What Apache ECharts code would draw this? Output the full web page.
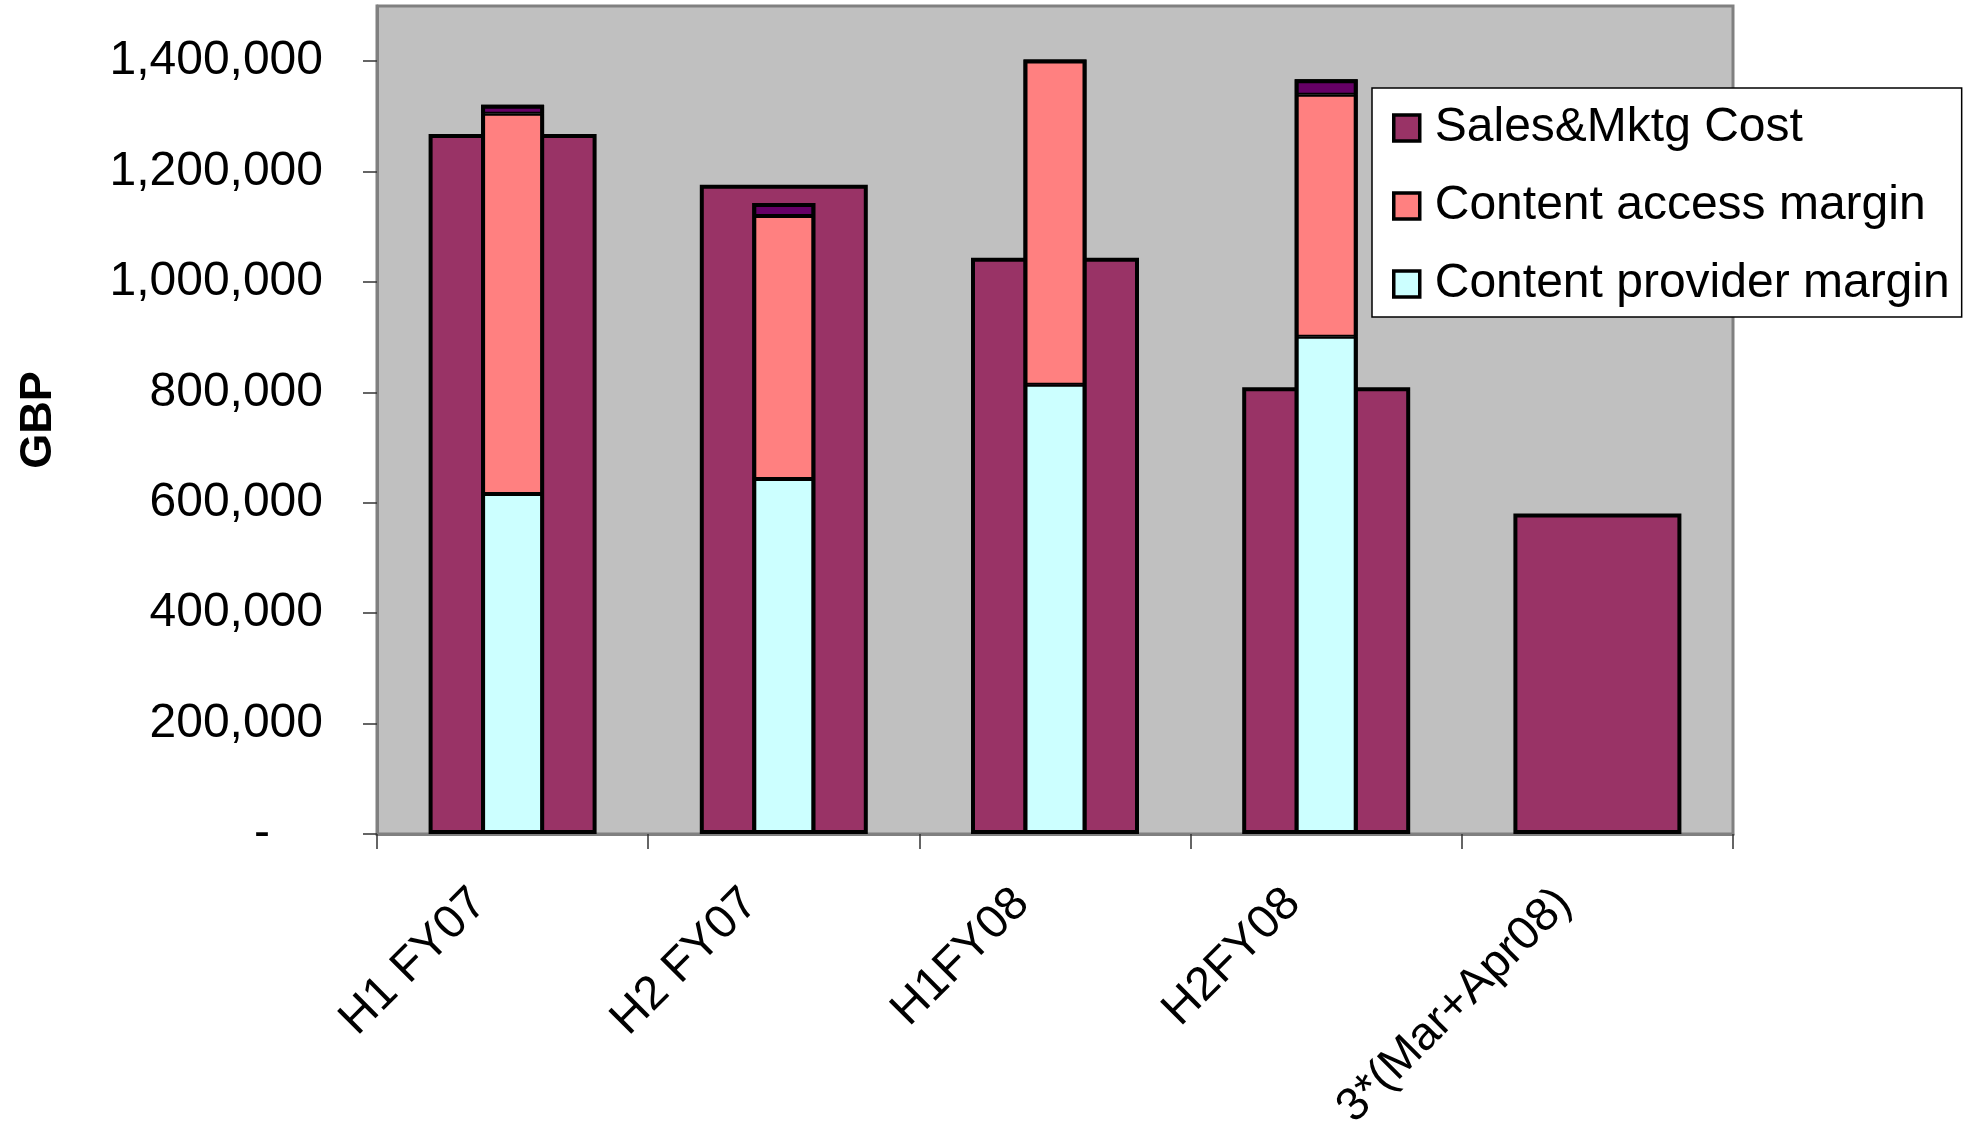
<!DOCTYPE html>
<html>
<head>
<meta charset="utf-8">
<script src="https://cdn.jsdelivr.net/npm/echarts@6/dist/echarts.min.js"></script>
<style>
  html, body { margin: 0; padding: 0; background: #ffffff; }
  #chart { width: 1966px; height: 1125px; }
</style>
</head>
<body>
<div id="chart"></div>
<script>
// ---- Data ----
const categories = ['H1 FY07', 'H2 FY07', 'H1FY08', 'H2FY08', '3*(Mar+Apr08)'];
const salesMktgCost = [1268000, 1176000, 1044000, 809500, 580500];
const contentProviderMargin = [616000, 643000, 814000, 901000, null];
const contentAccessMargin = [689000, 476500, 589000, 438000, null];
const topSegment = [16000, 23600, null, 28400, null];
const yTicks = [0, 200000, 400000, 600000, 800000, 1000000, 1200000, 1400000];
const legendOrder = ['Sales&Mktg Cost', 'Content access margin', 'Content provider margin'];

// outline of each stacked column (sum of its segments), drawn on top so that
// the outer border and the inner separators have the same thickness
const stackTotals = categories.map((c, i) => {
  const parts = [contentProviderMargin[i], contentAccessMargin[i], topSegment[i]].filter(v => v != null);
  return parts.length ? parts.reduce((a, b) => a + b, 0) : null;
});

const FONT = '"Liberation Sans", Arial, sans-serif';
const chart = echarts.init(document.getElementById('chart'), null, { renderer: 'canvas' });

function fmt(v) {
  if (v === 0) return '{z|-}';
  return v.toLocaleString('en-US');
}

const segBorder = { borderColor: '#000000', borderWidth: 2 };

chart.setOption({
  backgroundColor: '#ffffff',
  animation: false,
  grid: {
    left: 377, right: 233, top: 6, bottom: 291,
    containLabel: false, outerBoundsMode: 'none',
    show: true, backgroundColor: '#C0C0C0', borderColor: '#808080', borderWidth: 3
  },
  legend: {
    data: legendOrder,
    orient: 'vertical',
    left: 1372, top: 88,
    backgroundColor: '#ffffff',
    borderColor: '#000000', borderWidth: 1.5,
    padding: [15, 12, 8, 20],
    itemWidth: 26, itemHeight: 26, itemGap: 28,
    icon: 'rect',
    itemStyle: { borderColor: '#000', borderWidth: 3.5 },
    textStyle: { fontFamily: FONT, fontSize: 48, color: '#000', lineHeight: 50, padding: [0, 0, 0, 10] }
  },
  xAxis: [
    {
      type: 'category', data: categories, boundaryGap: true,
      axisLine: { show: true, lineStyle: { color: '#808080', width: 3 } },
      axisTick: { show: true, length: 15, lineStyle: { color: '#333', width: 1.5 } },
      axisLabel: {
        rotate: 45, interval: 0, margin: 29, fontFamily: FONT, fontSize: 47, color: '#000',
        padding: [0, 47, 0, 0]
      },
      splitLine: { show: false }
    },
    { type: 'category', data: categories, show: false, boundaryGap: true },
    { type: 'category', data: categories, show: false, boundaryGap: true }
  ],
  yAxis: {
    type: 'value', min: 0, max: 1500000, interval: 100000,
    name: 'GBP', nameLocation: 'middle', nameGap: 316,
    nameTextStyle: { fontFamily: FONT, fontSize: 45, fontWeight: 'bold', color: '#000' },
    axisLine: { show: true, lineStyle: { color: '#808080', width: 3 } },
    axisTick: { show: true, length: 14, customValues: yTicks, lineStyle: { color: '#333', width: 1.5 } },
    axisLabel: {
      customValues: yTicks,
      margin: 54, fontFamily: FONT, fontSize: 48, color: '#000',
      formatter: fmt,
      rich: { z: { fontFamily: FONT, fontSize: 48, color: '#000', padding: [0, 53, 0, 0] } }
    },
    splitLine: { show: false }
  },
  series: [
    {
      name: 'Sales&Mktg Cost', type: 'bar', xAxisIndex: 0, barWidth: 168,
      data: salesMktgCost,
      itemStyle: { color: '#993366', borderColor: '#000', borderWidth: 4 }
    },
    {
      name: 'Content provider margin', type: 'bar', xAxisIndex: 1, stack: 'm', barWidth: 63,
      data: contentProviderMargin,
      itemStyle: Object.assign({ color: '#CCFFFF' }, segBorder)
    },
    {
      name: 'Content access margin', type: 'bar', xAxisIndex: 1, stack: 'm', barWidth: 63,
      data: contentAccessMargin,
      itemStyle: Object.assign({ color: '#FF8080' }, segBorder)
    },
    {
      name: 'Other', type: 'bar', xAxisIndex: 1, stack: 'm', barWidth: 63,
      data: topSegment,
      itemStyle: Object.assign({ color: '#660066' }, segBorder)
    },
    {
      name: 'outline', type: 'bar', xAxisIndex: 2, barWidth: 63, silent: true,
      data: stackTotals,
      itemStyle: { color: 'rgba(0,0,0,0)', borderColor: '#000', borderWidth: 4 }
    }
  ]
});
</script>
</body>
</html>
